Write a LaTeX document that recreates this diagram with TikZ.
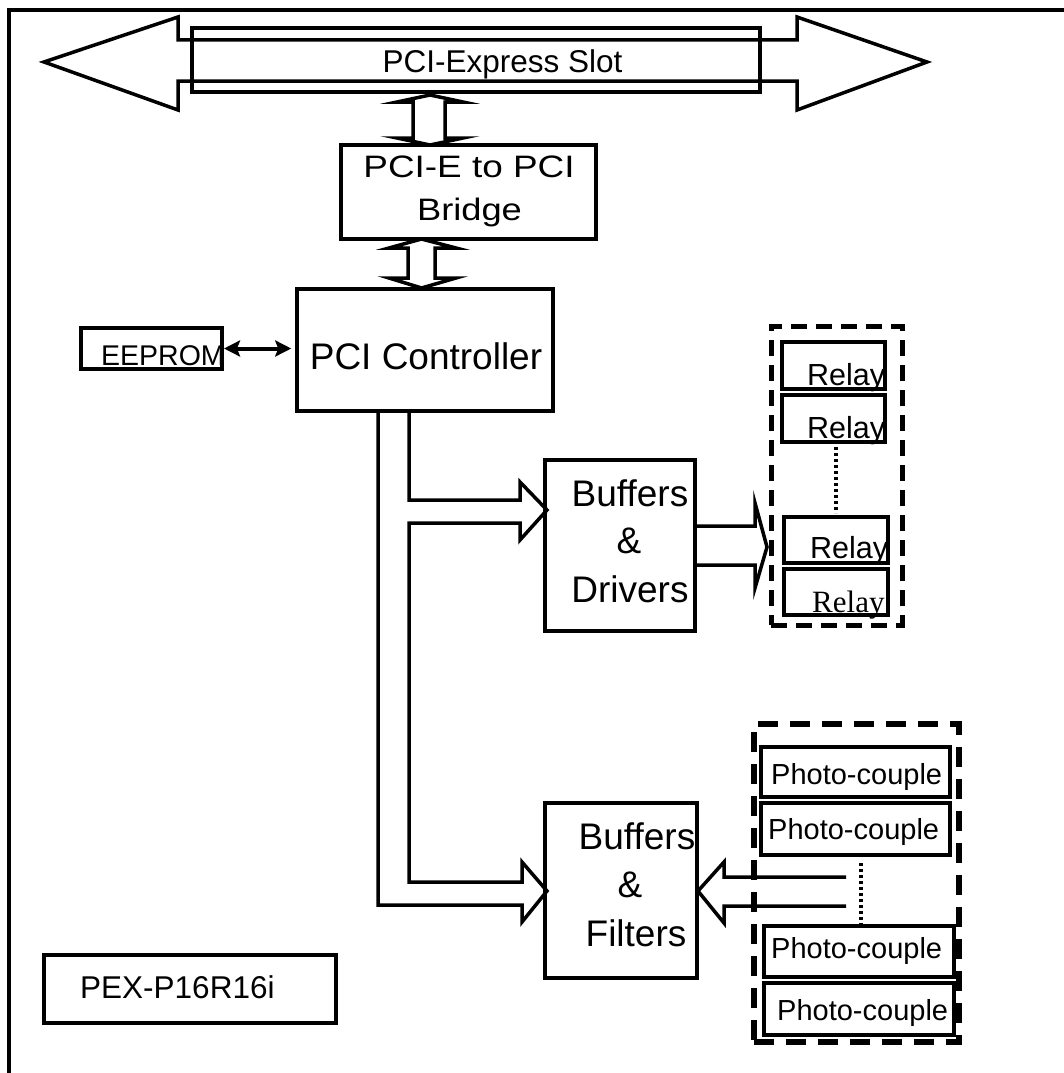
\documentclass[tikz,border=0pt]{standalone}
\usepackage{graphicx}
\usepackage{fontspec}
\setmainfont{Liberation Sans}
\newfontfamily\timesf{Liberation Serif}
\usetikzlibrary{arrows.meta}
\newcommand{\fs}[1]{\fontsize{#1}{#1}\selectfont}
\newcommand{\sx}[2]{\scalebox{#1}[1]{#2}}
\begin{document}
\begin{tikzpicture}[x=1pt,y=-1pt,line join=miter,
  box/.style={draw,line width=3.5pt,inner sep=0pt},
  sbox/.style={draw,line width=4pt,inner sep=0pt},
  lbl/.style={inner sep=0pt,anchor=base west},
  ctr/.style={inner sep=0pt,anchor=base},
  ln/.style={line width=3.5pt},
  dashbox/.style={draw,line width=5pt,dash pattern=on 16pt off 9pt},
  dotln/.style={line width=4.5pt,dash pattern=on 3pt off 3pt},
]
\useasboundingbox (0,0) rectangle (1064,1073);
% outer frame
\draw[line width=4pt] (9,1073) -- (9,10.5) -- (1064,10.5);

% PCI-Express slot double arrow
\draw[ln] (178,40) -- (178,17) -- (44,62) -- (178,110) -- (178,81) -- (797,81)
  -- (797,110) -- (927,62) -- (797,17) -- (797,40) -- cycle;
\node[box,minimum width=568,minimum height=64] (slot) at (476,60) {};
\node[ctr,font=\fs{31.5}] (slottxt) at (502.5,72) {PCI-Express Slot};

% Bridge
\node[box,minimum width=255,minimum height=94] (bridge) at (468.5,192) {};
\node[ctr,font=\fs{31}] (br1) at (469,177) {\sx{1.19}{PCI-E to PCI}};
\node[ctr,font=\fs{31}] (br2) at (469.5,220) {\sx{1.17}{Bridge}};

% slot <-> bridge
\draw[ln,fill=white] (413,102) -- (397,102) -- (430,95) -- (463,102) -- (445,102)
  -- (445,138) -- (463,138) -- (430,145) -- (397,138) -- (413,138) -- cycle;

% PCI controller
\node[box,minimum width=256,minimum height=122] (ctrl) at (425,350) {};
\node[ctr,font=\fs{37}] (ctrltxt) at (426,369) {PCI Controller};

% bridge <-> controller
\draw[ln,fill=white] (408,248) -- (389,248) -- (421.5,239) -- (456,248) -- (435,248)
  -- (435,278) -- (456,278) -- (421.5,288) -- (389,278) -- (408,278) -- cycle;

% EEPROM
\node[sbox,minimum width=141,minimum height=41] (eeprom) at (151.5,348.5) {};
\node[lbl,font=\fs{28.5}] (eetxt) at (101,365) {EEPROM};
\draw[line width=4pt,{Stealth[length=16pt,width=16pt,inset=3pt]}-{Stealth[length=16pt,width=16pt,inset=3pt]}]
  (eeprom.east) -- ([xshift=-4pt]eeprom.east -| ctrl.west);

% Buffers & Drivers
\node[box,minimum width=150,minimum height=171] (bd) at (620,545.5) {};
\node[ctr,font=\fs{37}] (bd1) at (630,506) {Buffers};
\node[ctr,font=\fs{37}] (bd2) at (629,553) {\&};
\node[ctr,font=\fs{37}] (bd3) at (630,602) {Drivers};

% Buffers & Filters
\node[box,minimum width=152,minimum height=175] (bf) at (621,890.5) {};
\node[ctr,font=\fs{37}] (bf1) at (637,849) {Buffers};
\node[ctr,font=\fs{37}] (bf2) at (630,897) {\&};
\node[ctr,font=\fs{37}] (bf3) at (636,946) {Filters};

% controller bus splitting to the two buffers
\draw[ln] (378,411) -- (378,905) -- (522,905) -- (522,922) -- (547,891) -- (522,862)
  -- (522,882) -- (409,882) -- (409,523) -- (520,523) -- (520,540) -- (547,510)
  -- (520,482) -- (520,500) -- (409,500) -- (409,411);

% Relays
\node[dashbox,minimum width=131,minimum height=299] (relaygrp) at (836.5,475.5) {};
\node[sbox,minimum width=103,minimum height=47] (r1) at (833.5,365.5) {};
\node[sbox,minimum width=103,minimum height=47] (r2) at (833.5,418.5) {};
\node[sbox,minimum width=104,minimum height=46] (r3) at (836,540) {};
\node[sbox,minimum width=104,minimum height=46] (r4) at (836,592) {};
\node[lbl,font=\fs{30.5}] (r1t) at (807,385) {Relay};
\node[lbl,font=\fs{30.5}] (r2t) at (807,438) {Relay};
\node[lbl,font=\fs{30.5}] (r3t) at (810,558) {Relay};
\node[lbl,font=\timesf\fs{31}] (r4t) at (812,612) {Relay};
\draw[dotln] (836,447) -- (836,513);

% drivers -> relays
\draw[ln] (695,526) -- (755,526) -- (755,503) -- (767,547) -- (755,588) -- (755,565) -- (695,565);

% Photo-couples
\node[dashbox,line width=6pt,dash pattern=on 20pt off 12pt,minimum width=205,minimum height=318] (photogrp) at (856.5,883) {};
\node[sbox,minimum width=189,minimum height=50] (p1) at (855.5,772) {};
\node[sbox,minimum width=189,minimum height=52] (p2) at (855.5,829) {};
\node[sbox,minimum width=190,minimum height=51] (p3) at (859,951.5) {};
\node[sbox,minimum width=190,minimum height=52] (p4) at (859,1009) {};
\node[lbl,font=\fs{29}] (p1t) at (771,784) {Photo-couple};
\node[lbl,font=\fs{29}] (p2t) at (768,839) {Photo-couple};
\node[lbl,font=\fs{29}] (p3t) at (771,958) {Photo-couple};
\node[lbl,font=\fs{29}] (p4t) at (777,1020) {Photo-couple};
\draw[dotln] (861,863) -- (861,924);

% photo-couples -> filters
\draw[ln] (846,877) -- (724,877) -- (724,862) -- (698,891) -- (724,923) -- (724,906) -- (846,906);

% model name
\node[box,minimum width=292,minimum height=68] (model) at (190,989) {};
\node[lbl,font=\fs{31.5}] (modeltxt) at (80,998) {PEX-P16R16i};
\end{tikzpicture}
\end{document}
